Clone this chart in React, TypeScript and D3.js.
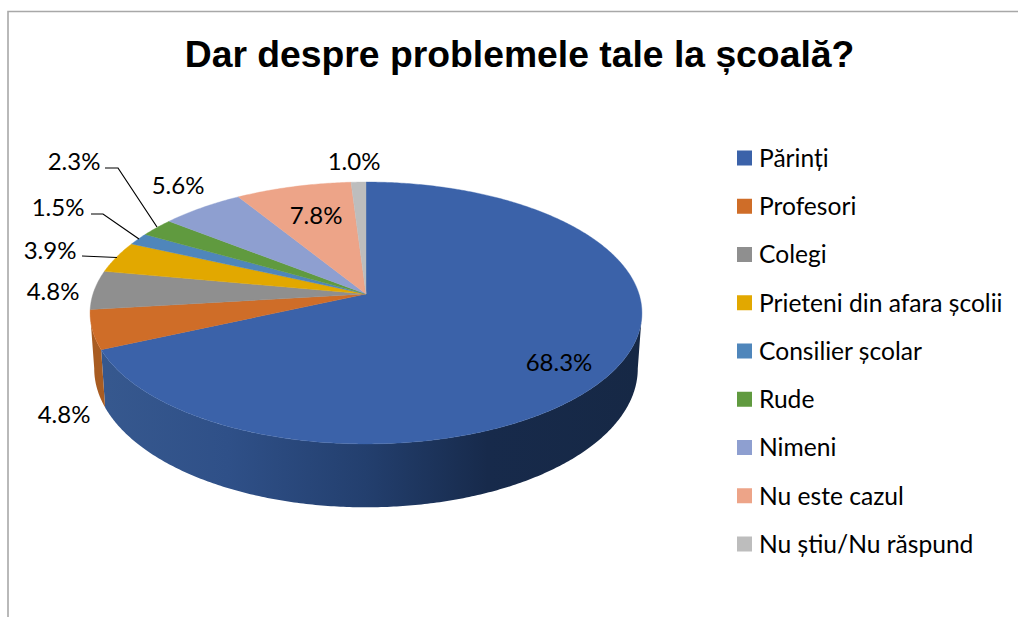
import React from "react";
import * as d3 from "d3";

const title = "Dar despre problemele tale la școală?";
const categories = ["Părinți", "Profesori", "Colegi", "Prieteni din afara școlii", "Consilier școlar", "Rude", "Nimeni", "Nu este cazul", "Nu știu/Nu răspund"];
const values = [68.3, 4.8, 4.8, 3.9, 1.5, 2.3, 5.6, 7.8, 1.0];
const valueLabels = ["68.3%", "4.8%", "4.8%", "3.9%", "1.5%", "2.3%", "5.6%", "7.8%", "1.0%"];
const colors = ["#3b62a9", "#cf6d28", "#8f8f8f", "#e2a800", "#4f86bb", "#609a3f", "#8e9fd0", "#eda488", "#bdbdbd"];

// label placement, same order as the values
const labelPos = [[559, 362], [64, 414], [53, 291], [50, 250], [58, 207], [74, 161], [178, 185], [316, 215], [354, 161]];
// elbow leader lines for the small slices: label index + polyline
const leaders: { index: number; pts: [number, number][] }[] = [
  { index: 3, pts: [[82, 256], [117, 257.5]] },
  { index: 4, pts: [[91, 214], [103, 214], [139, 239]] },
  { index: 5, pts: [[105, 168], [118, 168], [157, 227]] },
];

const W = 1018;
const H = 617;
const cx = 366;
const apexY = 294; // where the slices meet, sits above the ellipse centre because of perspective
const A = 273;
const B = 128.2;
const K = 0.145; // perspective strength
// bottom rim: a bit narrower but rounder than the top, seen from steeper
const BOTTOM_DROP = 54.5;
const BOTTOM_A = A * 0.985;
const BOTTOM_B = 135.8;

// circle angle (0 = top, clockwise) to screen point, tilted pie with perspective
const project = (t: number, bottom = false): [number, number] => {
  const w = 1 + K * Math.cos(t);
  return bottom
    ? [cx + (BOTTOM_A * Math.sin(t)) / w, apexY + BOTTOM_DROP - (BOTTOM_B * Math.cos(t)) / w]
    : [cx + (A * Math.sin(t)) / w, apexY - (B * Math.cos(t)) / w];
};

const anglesBetween = (a0: number, a1: number) => {
  const n = Math.max(2, Math.ceil((a1 - a0) / 0.01));
  return d3.range(n + 1).map((i) => a0 + ((a1 - a0) * i) / n);
};

const line = d3.line();
const arcs = d3.pie<number>().sort(null)(values);

// the outline turns at the widest point of the projected ellipse
const wallStart = Math.acos(-K);
const wallEnd = 2 * Math.PI - wallStart;

const wallGradients: Record<number, [number, string][]> = {
  0: [[0, "#37598f"], [0.25, "#2f5088"], [0.5, "#233f6e"], [0.72, "#172a4b"], [1, "#162845"]],
  1: [[0, "#a85c22"], [1, "#b6611f"]],
};

const App = () => {
  const legendY = d3.scalePoint<string>().domain(categories).range([158, 544]);

  return (
    <svg width={W} height={H} style={{ position: "absolute", left: 0, top: 0, background: "#fff" }}>
      <defs>
        {Object.entries(wallGradients).map(([i, stops]) => (
          <linearGradient key={i} id={`wall-${i}`} gradientUnits="userSpaceOnUse" x1={cx - 276} x2={cx + 276} y1={0} y2={0}>
            {stops.map(([o, c]) => (
              <stop key={o} offset={o} stopColor={c} />
            ))}
          </linearGradient>
        ))}
      </defs>

      <path d={`M8,${H}V11.5H${W}`} fill="none" stroke="#a8a8a8" strokeWidth={1.6} />

      <text x={519.5} y={67} textAnchor="middle" fontFamily="Liberation Sans" fontWeight="bold" fontSize={37.3} fill="#000">
        {title}
      </text>

      {/* side walls, only the part facing us */}
      {arcs.map((d, i) => {
        const a0 = Math.max(d.startAngle, wallStart);
        const a1 = Math.min(d.endAngle, wallEnd);
        if (a1 <= a0) return null;
        const ts = anglesBetween(a0, a1);
        const pts = [...ts.map((t) => project(t)), ...ts.slice().reverse().map((t) => project(t, true))];
        return <path key={i} d={line(pts) + "Z"} fill={wallGradients[i] ? `url(#wall-${i})` : colors[i]} />;
      })}

      {/* top surface */}
      {arcs.map((d, i) => {
        const pts: [number, number][] = [[cx, apexY], ...anglesBetween(d.startAngle, d.endAngle).map((t) => project(t))];
        return <path key={i} d={line(pts) + "Z"} fill={colors[i]} stroke={colors[i]} strokeWidth={0.4} />;
      })}

      {leaders.map((l) => (
        <path key={l.index} d={line(l.pts) ?? ""} fill="none" stroke="#000" strokeWidth={1.2} />
      ))}

      {valueLabels.map((t, i) => (
        <text key={i} x={labelPos[i][0]} y={labelPos[i][1]} dy="0.36em" textAnchor="middle" fontFamily="Lato" fontSize={24} fill="#000">
          {t}
        </text>
      ))}

      {categories.map((c, i) => {
        const y = legendY(c) ?? 0;
        return (
          <g key={c}>
            <rect x={737} y={y - 7.5} width={15} height={15} fill={colors[i]} />
            <text x={759} y={y} dy="0.36em" fontFamily="Lato" fontSize={24.6} fill="#000">
              {c}
            </text>
          </g>
        );
      })}
    </svg>
  );
};

export default App;
